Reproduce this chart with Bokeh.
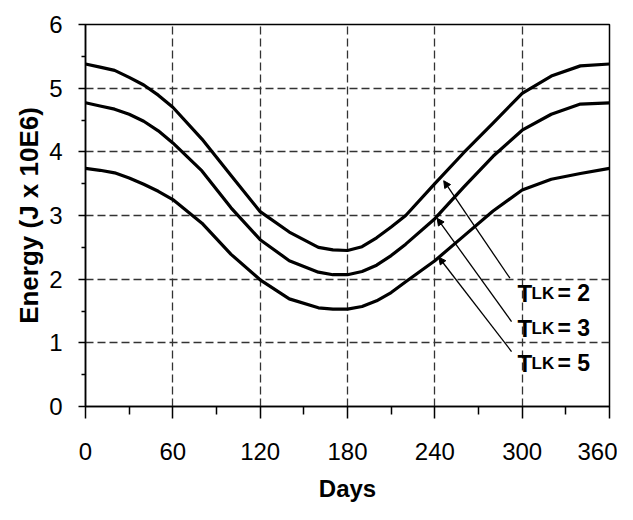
from bokeh.plotting import figure
from bokeh.models import FixedTicker, Arrow, NormalHead, Range1d
from bokeh.embed import file_html
from bokeh.resources import INLINE
from bokeh.core.properties import value

# ---- data ----
days = [0, 10, 20, 30, 40, 50, 60, 80, 100, 120, 140, 160, 170, 180, 190,
        200, 210, 220, 240, 260, 280, 300, 320, 340, 360]
energy_tlk2 = [5.38, 5.33, 5.28, 5.17, 5.05, 4.89, 4.70, 4.20, 3.63, 3.06, 2.74,
               2.50, 2.46, 2.45, 2.51, 2.65, 2.82, 3.00, 3.50, 3.99, 4.45, 4.92,
               5.19, 5.35, 5.38]
energy_tlk3 = [4.77, 4.72, 4.67, 4.59, 4.48, 4.33, 4.14, 3.70, 3.12, 2.62, 2.29,
               2.11, 2.07, 2.07, 2.12, 2.22, 2.37, 2.55, 2.95, 3.45, 3.93, 4.34,
               4.59, 4.75, 4.77]
energy_tlk5 = [3.74, 3.71, 3.67, 3.59, 3.49, 3.38, 3.25, 2.88, 2.39, 1.99, 1.69,
               1.55, 1.53, 1.53, 1.57, 1.66, 1.79, 1.96, 2.29, 2.68, 3.07, 3.40,
               3.57, 3.66, 3.74]
series_names = ["2", "3", "5"]
x_ticks = [0, 60, 120, 180, 240, 300, 360]
x_minor = [30, 90, 150, 210, 270, 330]
y_ticks = [0, 1, 2, 3, 4, 5, 6]
y_minor = [0.5, 1.5, 2.5, 3.5, 4.5, 5.5]
x_title = "Days"
y_title = "Energy (J x 10E6)"

FONT = "Liberation Sans"

p = figure(width=617, height=504, x_range=Range1d(0, 360), y_range=Range1d(0, 6),
           output_backend="svg", toolbar_location=None,
           min_border_left=85, min_border_right=8, min_border_top=24,
           min_border_bottom=98, x_axis_label=x_title, y_axis_label=y_title)

p.background_fill_color = "white"
p.border_fill_color = "white"
p.outline_line_color = "black"
p.outline_line_width = 1.5
p.outline_line_alpha = 1.0

p.xaxis.ticker = FixedTicker(ticks=x_ticks, minor_ticks=x_minor)
p.yaxis.ticker = FixedTicker(ticks=y_ticks, minor_ticks=y_minor)

for ax in (p.xaxis, p.yaxis):
    ax.axis_line_color = "black"
    ax.axis_line_width = 1.5
    ax.major_tick_line_color = "black"
    ax.major_tick_line_width = 1.5
    ax.minor_tick_line_color = "black"
    ax.minor_tick_line_width = 1.5
    ax.major_tick_in = 0
    ax.minor_tick_in = 0
    ax.major_label_text_font = FONT
    ax.major_label_text_font_size = "24px"
    ax.major_label_text_color = "black"
    ax.axis_label_text_font = FONT
    ax.axis_label_text_font_style = "bold"
    ax.axis_label_text_color = "black"

p.xaxis.axis_label_text_font_size = "24px"
p.yaxis.axis_label_text_font_size = "26px"
p.xaxis.major_tick_out = 12
p.xaxis.minor_tick_out = 8
p.xaxis.major_label_standoff = 24
p.xaxis.axis_label_standoff = 12
p.yaxis.major_tick_out = 7
p.yaxis.minor_tick_out = 4
p.yaxis.major_label_standoff = 16
p.yaxis.axis_label_standoff = 2

for g in (p.xgrid, p.ygrid):
    g.grid_line_color = "#333333"
    g.grid_line_width = 1.3
    g.grid_line_dash = "8 4"

for ys in (energy_tlk2, energy_tlk3, energy_tlk5):
    p.line(days, ys, line_color="black", line_width=3.2, line_join="round",
           line_cap="round")

# ---- annotations (arrows + labels) ----
arrow_tail_x = [291.6, 292.7, 292.7]
arrow_tail_y = [2.015, 1.334, 0.863]
arrow_head_x = [246.1, 241.6, 242.7]
arrow_head_y = [3.546, 2.956, 2.344]
for xs, ys, xe, ye in zip(arrow_tail_x, arrow_tail_y, arrow_head_x, arrow_head_y):
    p.add_layout(Arrow(end=NormalHead(size=7, fill_color="black", line_color="black",
                                      line_width=1),
                       x_start=xs, y_start=ys, x_end=xe, y_end=ye,
                       line_color="black", line_width=1.3))

label_x = 296.8
label_base_y = [1.78, 1.23, 0.68]
for name, yb in zip(series_names, label_base_y):
    p.text([label_x], [yb], text=["T"], text_font=value(FONT), text_font_size="24px",
           text_font_style="bold", text_color="black", text_baseline="alphabetic",
           text_align="left")
    p.text([label_x], [yb], text=["LK"], x_offset=14, text_font=value(FONT),
           text_font_size="17px", text_font_style="bold", text_color="black",
           text_baseline="alphabetic", text_align="left")
    p.text([label_x], [yb], text=["= " + name], x_offset=40, text_font=value(FONT),
           text_font_size="23px", text_font_style="bold", text_color="black",
           text_baseline="alphabetic", text_align="left")

open("out.html", "w").write(file_html(p, INLINE))
